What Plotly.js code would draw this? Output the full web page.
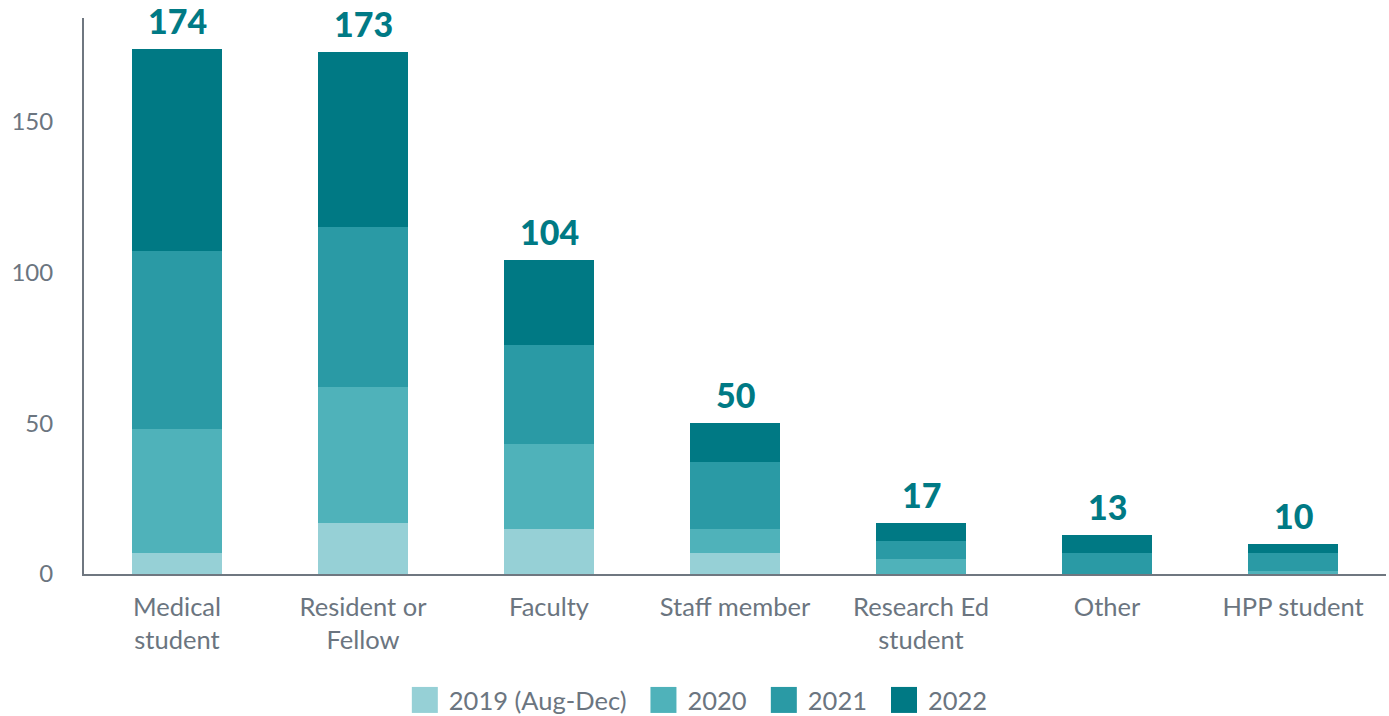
<!DOCTYPE html>
<html><head><meta charset="utf-8">
<script src="https://cdn.plot.ly/plotly-3.0.1.min.js"></script>
<style>html,body{margin:0;padding:0;background:#fff;}#chart{width:1389px;height:716px;}</style>
</head><body><div id="chart"></div>
<script>
const categories = ["Medical<br>student", "Resident or<br>Fellow", "Faculty", "Staff member", "Research Ed<br>student", "Other", "HPP student"];
const seriesNames = ["2019 (Aug-Dec)", "2020", "2021", "2022"];
const v2019 = [7, 17, 15, 7, 0, 0, 0];
const v2020 = [41, 45, 28, 8, 5, 0, 1];
const v2021 = [59, 53, 33, 22, 6, 7, 6];
const v2022 = [67, 58, 28, 13, 6, 6, 3];
const colors = ["#96d0d6", "#4fb2ba", "#2a9aa5", "#007984"];

const values = [v2019, v2020, v2021, v2022];
const totals = categories.map((c, i) => values.reduce((s, arr) => s + arr[i], 0));

const traces = values.map((vals, k) => ({
  type: "bar", x: categories, y: vals, name: seriesNames[k],
  marker: {color: colors[k], line: {width: 0}},
  hoverinfo: "x+y+name"
}));

const annotations = categories.map((c, i) => ({
  x: c, y: totals[i], xref: "x", yref: "y", text: String(totals[i]),
  showarrow: false, yanchor: "bottom", yshift: 6,
  font: {family: "Lato, 'Open Sans', sans-serif", size: 34, color: "#007a85", weight: 900}
}));

const layout = {
  width: 1389, height: 716,
  margin: {l: 84, r: 3, t: 18, b: 142, autoexpand: false},
  paper_bgcolor: "#fff", plot_bgcolor: "#fff",
  barmode: "stack", bargap: 0.516,
  font: {family: "Lato, 'Open Sans', sans-serif", size: 24, color: "#6b7580"},
  xaxis: {showline: true, linecolor: "#6f7780", linewidth: 2, showgrid: false, zeroline: false,
          ticks: "", ticklabelstandoff: 9, tickfont: {size: 25.5, color: "#6b7580"}, automargin: false},
  yaxis: {range: [0, 184.3], showline: true, linecolor: "#6f7780", linewidth: 2, showgrid: false,
          zeroline: false, tickvals: [0, 50, 100, 150], ticks: "", ticklabelstandoff: 24,
          tickfont: {size: 24, color: "#6b7580"}, automargin: false},
  showlegend: true,
  legend: {orientation: "h", x: 0.5, xanchor: "center", xref: "paper", y: -0.185, yanchor: "top",
           font: {size: 25.5, color: "#6b7580"}, traceorder: "normal", itemwidth: 30},
  annotations: annotations
};

Plotly.newPlot("chart", traces, layout, {displayModeBar: false, staticPlot: true}).then(function (gd) {
  const SQ = 26, GAP_TXT = 11, GAP_ITEM = 24;
  const scroll = gd.querySelector(".legend .scrollbox");
  if (scroll) scroll.removeAttribute("clip-path");
  const legendEl = gd.querySelector(".legend");
  if (legendEl) { const bg = legendEl.querySelector("rect.bg"); if (bg) bg.style.display = "none"; }
  const items = Array.from(gd.querySelectorAll(".legend g.traces"));
  const info = items.map(function (it) {
    const path = it.querySelector(".legendpoints path");
    path.setAttribute("d", "M" + SQ / 2 + "," + SQ / 2 + "H" + (-SQ / 2) + "V" + (-SQ / 2) + "H" + SQ / 2 + "Z");
    const txt = it.querySelector("text.legendtext");
    let sr = path.getBoundingClientRect();
    let tr = txt.getBoundingClientRect();
    const tx0 = parseFloat(txt.getAttribute("x")) || 0;
    txt.setAttribute("x", tx0 + (sr.right + GAP_TXT - tr.left));
    tr = txt.getBoundingClientRect();
    return {it: it, path: path, sqLeft: sr.left, width: SQ + GAP_TXT + tr.width};
  });
  const total = info.reduce((s, d) => s + d.width, 0) + GAP_ITEM * (info.length - 1);
  let cursor = 1389 / 2 + 5 - total / 2;
  info.forEach(function (d) {
    const m = /translate\(\s*([-\d.]+)[ ,]+([-\d.]+)\s*\)/.exec(d.it.getAttribute("transform") || "");
    const x = m ? parseFloat(m[1]) : 0, y = m ? parseFloat(m[2]) : 0;
    d.it.setAttribute("transform", "translate(" + (x + cursor - d.sqLeft) + "," + y + ")");
    cursor += d.width + GAP_ITEM;
  });
});
</script></body></html>
